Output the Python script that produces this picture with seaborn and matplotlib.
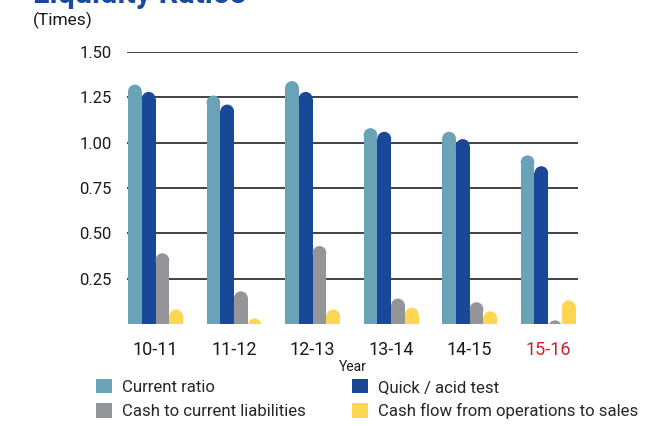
import matplotlib
matplotlib.use("Agg")
import matplotlib.pyplot as plt
from matplotlib.patches import Rectangle, Ellipse, Patch
import seaborn as sns
import pandas as pd

# Liquidity ratios by financial year (times)
years = ["10-11", "11-12", "12-13", "13-14", "14-15", "15-16"]
current_ratio = [1.32, 1.26, 1.34, 1.08, 1.06, 0.93]
quick_acid = [1.28, 1.21, 1.28, 1.06, 1.02, 0.87]
cash_to_cl = [0.39, 0.18, 0.43, 0.14, 0.12, 0.02]
cfo_to_sales = [0.08, 0.03, 0.08, 0.09, 0.07, 0.13]

series_names = ["Current ratio", "Quick / acid test",
                "Cash to current liabilities", "Cash flow from operations to sales"]
series_values = [current_ratio, quick_acid, cash_to_cl, cfo_to_sales]
series_colors = ["#6aa3b8", "#1a4899", "#939598", "#ffd651"]
y_ticks = [0.25, 0.50, 0.75, 1.00, 1.25, 1.50]

df = pd.DataFrame(
    [(y, name, v) for name, vals in zip(series_names, series_values)
     for y, v in zip(years, vals)],
    columns=["Year", "Series", "Value"],
)

sns.set_theme(style="white")
plt.rcParams["font.family"] = ["Roboto", "DejaVu Sans"]

W, H = 664, 426
fig = plt.figure(figsize=(W / 100, H / 100), dpi=100)
ax_l, ax_r, ax_t, ax_b = 127, 578, 52, 324
ax = fig.add_axes([ax_l / W, 1 - ax_b / H, (ax_r - ax_l) / W, (ax_b - ax_t) / H])

palette = dict(zip(series_names, series_colors))
sns.barplot(data=df, x="Year", y="Value", hue="Series", hue_order=series_names,
            palette=palette, width=0.7, saturation=1, legend=False, ax=ax, zorder=3)

xlim = (-0.363, 5.38)
ylim = (0, 1.5)
ax.set_xlim(*xlim)
ax.set_ylim(*ylim)

# Give every bar a semicircular cap: body rectangle plus half-ellipse on top
x_per_px = (xlim[1] - xlim[0]) / (ax_r - ax_l)
y_per_px = (ylim[1] - ylim[0]) / (ax_b - ax_t)
aspect = y_per_px / x_per_px
for p in list(ax.patches):
    x0, w, h = p.get_x(), p.get_width(), p.get_height()
    color = p.get_facecolor()
    p.remove()
    ry = (w / 2) * aspect
    body_h = h - ry
    if body_h > 0:
        ax.add_patch(Rectangle((x0, 0), w, body_h, facecolor=color,
                               edgecolor="none", linewidth=0, zorder=3))
    ax.add_patch(Ellipse((x0 + w / 2, body_h), w, 2 * ry, facecolor=color,
                         edgecolor="none", linewidth=0, zorder=3))

ax.set_yticks(y_ticks)
ax.set_yticklabels([f"{t:.2f}" for t in y_ticks])
ax.yaxis.grid(True, color="#333333", linewidth=1.3, zorder=0)
ax.set_axisbelow(True)
for s in ax.spines.values():
    s.set_visible(False)
ax.tick_params(axis="y", length=0, pad=11, labelsize=12, labelcolor="#1a1a1a")
ax.tick_params(axis="x", length=0, pad=12, labelsize=13, labelcolor="#1a1a1a")
ax.get_xticklabels()[-1].set_color("#d0202e")

ax.set_ylabel("")
ax.set_xlabel("Year", fontsize=10, color="#1a1a1a", labelpad=1)

fig.text(33 / W, 1 - 3 / H, "Liquidity Ratios", fontsize=22, fontweight="bold",
         color="#1a4a9c", ha="left", va="baseline")
fig.text(33 / W, 1 - 25 / H, "(Times)", fontsize=12.5, color="#1a1a1a",
         ha="left", va="baseline")

# Legend reads row by row; matplotlib fills columns first, so interleave
order = [0, 2, 1, 3]
handles = [Patch(facecolor=series_colors[i], edgecolor="none") for i in order]
labels = [series_names[i] for i in order]
fig.legend(handles, labels, loc="upper left",
           bbox_to_anchor=(96 / W, 1 - 379 / H), ncol=2, frameon=False,
           fontsize=12.1, handlelength=0.95, handleheight=0.95,
           handletextpad=0.6, columnspacing=2.75, labelspacing=0.5,
           borderaxespad=0, borderpad=0)

fig.savefig("out.png", dpi=100)
